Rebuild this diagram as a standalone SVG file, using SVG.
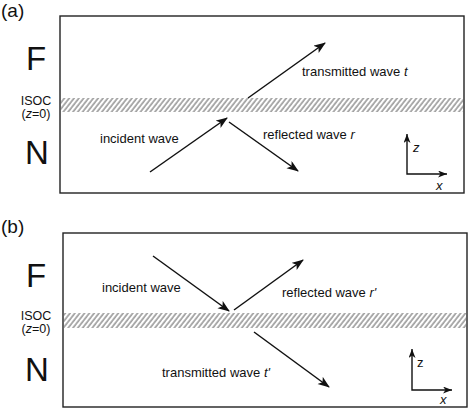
<svg xmlns="http://www.w3.org/2000/svg" width="469" height="410" viewBox="0 0 469 410">
<defs>
<style>
.t{font-family:"Liberation Sans",Arial,sans-serif;fill:#111}
.lab{font-size:13px}
.big{font-size:33px}
.isoc{font-size:12.5px}
.axl{font-size:13px}
.pan{font-size:19px}
.frame{fill:none;stroke:#222;stroke-width:1.4}
.arr{stroke:#111;stroke-width:1.5;fill:none;marker-end:url(#ah)}
.ax{stroke:#111;stroke-width:1.4;fill:none;marker-start:url(#ah2);marker-end:url(#ah2)}
</style>
<marker id="ah" markerUnits="userSpaceOnUse" markerWidth="12" markerHeight="10" refX="11" refY="4.5" orient="auto">
<path d="M0,0 L12,4.5 L0,9 L3,4.5 Z" fill="#111"/>
</marker>
<marker id="ah2" markerUnits="userSpaceOnUse" markerWidth="10" markerHeight="8" refX="9" refY="3.5" orient="auto-start-reverse">
<path d="M0,0 L9,3.5 L0,7 L2.5,3.5 Z" fill="#111"/>
</marker>
<pattern id="hatch" patternUnits="userSpaceOnUse" width="3.8" height="20" patternTransform="rotate(38)">
<line x1="1" y1="0" x2="1" y2="20" stroke="#444" stroke-width="0.9"/>
</pattern>
</defs>

<g id="panel-a">
<text class="t pan" x="1" y="17">(a)</text>
<rect id="box-a" class="frame" x="60" y="16" width="404" height="177"/>
<rect id="isoc-a" x="61" y="98" width="402" height="14" fill="url(#hatch)"/>
<text class="t big" x="36" y="70" text-anchor="middle">F</text>
<text class="t big" x="37" y="164" text-anchor="middle">N</text>
<text class="t isoc" x="36" y="105" text-anchor="middle">ISOC</text>
<text class="t isoc" x="36" y="118" text-anchor="middle">(<tspan font-style="italic">z</tspan>=0)</text>
<g id="connectors-a">
<line class="arr" x1="150" y1="172" x2="227" y2="118"/>
<line class="arr" x1="229" y1="122" x2="298" y2="171"/>
<line class="arr" x1="248" y1="98" x2="325" y2="43"/>
</g>
<text class="t lab" x="100" y="143">incident wave</text>
<text class="t lab" x="263" y="139">reflected wave <tspan font-style="italic">r</tspan></text>
<text class="t lab" x="302" y="76">transmitted wave <tspan font-style="italic">t</tspan></text>
<g id="axes-a">
<path class="ax" d="M407,134 L407,174 L447,174"/>
<text class="t axl" x="413" y="152" font-style="italic">z</text>
<text class="t axl" x="436" y="190" font-style="italic">x</text>
</g>
</g>

<g id="panel-b">
<text class="t pan" x="1" y="233">(b)</text>
<rect id="box-b" class="frame" x="63" y="233" width="404" height="174"/>
<rect id="isoc-b" x="64" y="313" width="402" height="15" fill="url(#hatch)"/>
<text class="t big" x="36" y="287" text-anchor="middle">F</text>
<text class="t big" x="37" y="381" text-anchor="middle">N</text>
<text class="t isoc" x="36" y="320" text-anchor="middle">ISOC</text>
<text class="t isoc" x="36" y="333" text-anchor="middle">(<tspan font-style="italic">z</tspan>=0)</text>
<g id="connectors-b">
<line class="arr" x1="153" y1="256" x2="229" y2="311"/>
<line class="arr" x1="234" y1="310" x2="303" y2="260"/>
<line class="arr" x1="254" y1="332" x2="329" y2="387"/>
</g>
<text class="t lab" x="102" y="292">incident wave</text>
<text class="t lab" x="282" y="297">reflected wave <tspan font-style="italic">r'</tspan></text>
<text class="t lab" x="162" y="377">transmitted wave <tspan font-style="italic">t'</tspan></text>
<g id="axes-b">
<path class="ax" d="M412,349 L412,390 L452,390"/>
<text class="t axl" x="417" y="367">z</text>
<text class="t axl" x="440" y="404" font-style="italic">x</text>
</g>
</g>
</svg>
